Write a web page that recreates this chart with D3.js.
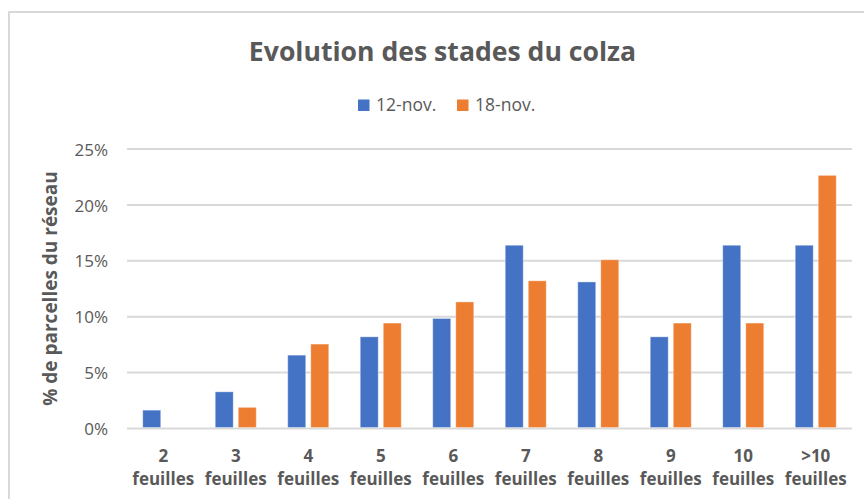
<!DOCTYPE html>
<html><head><meta charset="utf-8">
<script src="https://cdn.jsdelivr.net/npm/d3@7"></script>
<style>
html,body{margin:0;padding:0;background:#fff;}
svg{display:block;font-family:"Open Sans", Lato, sans-serif;}
</style></head>
<body>
<svg id="chart" width="864" height="499"></svg>
<script>
const categories = ["2 feuilles","3 feuilles","4 feuilles","5 feuilles","6 feuilles","7 feuilles","8 feuilles","9 feuilles","10 feuilles",">10 feuilles"];
const seriesNames = ["12-nov.","18-nov."];
const nov12 = [1.64,3.28,6.56,8.20,9.84,16.39,13.11,8.20,16.39,16.39];
const nov18 = [0,1.89,7.55,9.43,11.32,13.21,15.09,9.43,9.43,22.64];
const yTicks = [0,5,10,15,20,25];
const colors = ["#4472C4","#ED7D31"];
const title = "Evolution des stades du colza";
const yTitle = "% de parcelles du réseau";

(function(){
const svg = d3.select("#chart");
const textColor = "#595959";
const gridColor = "#d9d9d9";
const font = '"Open Sans", Lato, sans-serif';

// frame
svg.append("path").attr("d","M9,499 V12 H864").attr("fill","none")
  .attr("stroke",gridColor).attr("stroke-width",2);

const pLeft=127, pRight=852, pTop=149, pBottom=428.5;
const x = d3.scaleBand().domain(categories).range([pLeft,pRight]);
const y = d3.scaleLinear().domain([0,25]).range([pBottom,pTop]);

// gridlines
svg.append("g").selectAll("line").data(yTicks).join("line")
  .attr("x1",pLeft).attr("x2",pRight)
  .attr("y1",d=>y(d)).attr("y2",d=>y(d))
  .attr("stroke",gridColor).attr("stroke-width",2);

// y axis labels
const yAxis = d3.axisLeft(y).tickValues(yTicks).tickFormat(d=>d+"%").tickSize(0).tickPadding(0);
const gy = svg.append("g").attr("transform",`translate(${pLeft-19},0)`).call(yAxis);
gy.select(".domain").remove();
gy.selectAll("text").attr("fill",textColor).style("font-size","17px").style("font-family",font).attr("dy","0.36em");

// bars
const inner = d3.scaleBand().domain([0,1]).range([-20.5,20.5]).paddingInner(0.22);
const series = [nov12, nov18];
series.forEach((vals,si)=>{
  svg.append("g").selectAll("rect").data(vals.map((v,i)=>({v,c:categories[i]})).filter(d=>d.v>0)).join("rect")
    .attr("x",d=>x(d.c)+x.bandwidth()/2+inner(si))
    .attr("width",inner.bandwidth())
    .attr("y",d=>y(d.v))
    .attr("height",d=>pBottom-y(d.v)-1)
    .attr("fill",colors[si])
    .attr("stroke","#ffffff").attr("stroke-opacity",0.35).attr("stroke-width",1);
});

// x labels
const gx = svg.append("g");
categories.forEach(c=>{
  const parts = c.split(" ");
  const cx = x(c)+x.bandwidth()/2;
  const t = gx.append("text").attr("text-anchor","middle")
    .attr("fill",textColor).style("font-size","17px").style("font-weight","bold");
  t.append("tspan").attr("x",cx).attr("y",462).text(parts[0]);
  t.append("tspan").attr("x",cx).attr("y",485).text(parts[1]);
});

// title
svg.append("text").attr("x",442.5).attr("y",61).attr("text-anchor","middle")
  .attr("fill",textColor).style("font-size","26.6px").style("font-weight","bold").text(title);

// legend
const legX=[358,457];
seriesNames.forEach((n,i)=>{
  svg.append("rect").attr("x",legX[i]).attr("y",99.5).attr("width",11.5).attr("height",11.5).attr("fill",colors[i]);
  svg.append("text").attr("x",legX[i]+18).attr("y",111).attr("fill",textColor)
    .style("font-size","17.5px").text(n);
});

// y title
svg.append("text").attr("transform","translate(57,288.5) rotate(-90)").attr("text-anchor","middle")
  .attr("fill",textColor).style("font-size","19px").style("font-weight","bold").text(yTitle);
})();
</script>
</body></html>
